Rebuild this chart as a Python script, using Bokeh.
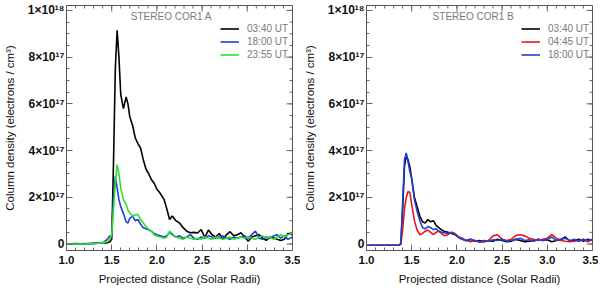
import math
from bokeh.plotting import figure
from bokeh.models import FixedTicker, Legend, LegendItem, Range1d, Label
from bokeh.layouts import row
from bokeh.embed import file_html
from bokeh.resources import INLINE

# ---------------- data (column density in units of 1e17 electrons/cm^2) ----------------
x_a = [1.0, 1.1, 1.2, 1.3, 1.4, 1.45, 1.48, 1.50, 1.52, 1.54, 1.56, 1.58, 1.60, 1.63, 1.66,
       1.68, 1.70, 1.73, 1.76, 1.79, 1.82, 1.85, 1.88, 1.91, 1.94, 1.97, 2.00, 2.04, 2.08,
       2.11, 2.14, 2.17, 2.21, 2.25, 2.29, 2.33, 2.37, 2.41, 2.45, 2.49, 2.53, 2.57, 2.61,
       2.65, 2.69, 2.73, 2.77, 2.81, 2.85, 2.89, 2.93, 2.97, 3.01, 3.05, 3.09, 3.13, 3.17,
       3.21, 3.25, 3.29, 3.33, 3.37, 3.41, 3.45, 3.50]
a_0340 = [0.0, 0.02, 0.0, 0.03, 0.05, 0.05, 0.1, 0.2, 3.5, 7.5, 9.15, 8.0, 6.4, 5.8, 6.3,
          6.0, 5.45, 5.1, 4.55, 4.3, 4.1, 3.6, 3.2, 3.0, 2.75, 2.6, 2.35, 2.15, 1.9,
          1.5, 1.05, 1.2, 1.0, 0.9, 0.7, 0.55, 0.48, 0.5, 0.47, 0.62, 0.28, 0.6, 0.4,
          0.3, 0.45, 0.2, 0.4, 0.53, 0.35, 0.4, 0.48, 0.3, 0.12, 0.3, 0.35, 0.4, 0.25,
          0.16, 0.3, 0.27, 0.2, 0.15, 0.2, 0.45, 0.4]
a_1800 = [0.0, 0.0, 0.02, 0.02, 0.05, 0.2, 0.35, 0.3, 2.0, 2.9, 2.4, 1.9, 1.6, 1.3, 0.95,
          0.9, 1.1, 1.2, 1.0, 1.05, 0.85, 0.7, 0.65, 0.6, 0.55, 0.45, 0.4, 0.35, 0.3,
          0.35, 0.5, 0.4, 0.3, 0.35, 0.25, 0.3, 0.4, 0.25, 0.2, 0.3, 0.25, 0.35, 0.3,
          0.25, 0.3, 0.35, 0.25, 0.2, 0.3, 0.25, 0.3, 0.35, 0.25, 0.4, 0.55, 0.25, 0.2,
          0.3, 0.25, 0.35, 0.4, 0.25, 0.35, 0.2, 0.3]
a_2355 = [0.0, 0.0, 0.0, 0.02, 0.05, 0.1, 0.2, 0.4, 1.5, 2.6, 3.4, 3.0, 2.4, 1.9, 1.7,
          1.45, 1.34, 1.2, 1.25, 1.26, 1.05, 0.9, 0.75, 0.62, 0.55, 0.4, 0.33, 0.3, 0.25,
          0.3, 0.55, 0.45, 0.3, 0.25, 0.2, 0.3, 0.25, 0.2, 0.25, 0.2, 0.3, 0.25, 0.2,
          0.3, 0.25, 0.2, 0.25, 0.3, 0.2, 0.25, 0.3, 0.25, 0.3, 0.25, 0.2, 0.3, 0.35,
          0.25, 0.3, 0.2, 0.3, 0.4, 0.3, 0.4, 0.45]

x_b = [1.0, 1.1, 1.2, 1.3, 1.36, 1.38, 1.40, 1.42, 1.44, 1.46, 1.48, 1.50, 1.53, 1.56, 1.59,
       1.62, 1.65, 1.68, 1.71, 1.74, 1.77, 1.80, 1.83, 1.86, 1.90, 1.94, 1.98, 2.02, 2.06,
       2.10, 2.15, 2.20, 2.25, 2.30, 2.35, 2.40, 2.45, 2.50, 2.55, 2.60, 2.65, 2.70, 2.75,
       2.80, 2.85, 2.90, 2.95, 3.00, 3.05, 3.10, 3.15, 3.20, 3.25, 3.30, 3.35, 3.40, 3.45,
       3.50]
b_0340 = [-0.05, -0.05, -0.05, -0.05, -0.04, 0.0, 1.5, 3.3, 3.8, 3.6, 3.3, 2.8, 2.0, 1.6, 1.2,
          0.95, 0.9, 1.05, 0.95, 1.0, 0.8, 0.7, 0.6, 0.55, 0.5, 0.45, 0.4, 0.28, 0.2,
          0.15, 0.2, 0.12, 0.15, 0.1, 0.15, 0.12, 0.2, 0.15, 0.1, 0.12, 0.2, 0.15, 0.1,
          0.12, 0.15, 0.2, 0.15, 0.18, 0.1, 0.15, 0.2, 0.3, 0.12, 0.15, 0.2, 0.12, 0.2,
          0.15]
b_0445 = [-0.05, -0.05, -0.05, -0.05, -0.04, 0.0, 0.6, 1.5, 2.0, 2.25, 2.2, 1.7, 1.0, 0.6, 0.4,
          0.45, 0.55, 0.6, 0.5, 0.4, 0.5, 0.55, 0.45, 0.36, 0.4, 0.5, 0.45, 0.3, 0.25,
          0.15, 0.1, 0.15, 0.08, 0.1, 0.15, 0.35, 0.4, 0.2, 0.15, 0.2, 0.36, 0.4, 0.35,
          0.25, 0.2, 0.15, 0.2, 0.25, 0.4, 0.25, 0.15, 0.12, 0.1, 0.12, 0.15, 0.2, 0.1,
          0.2]
b_1800 = [-0.05, -0.05, -0.05, -0.05, -0.04, 0.0, 1.8, 3.6, 3.9, 3.5, 3.1, 2.8, 1.9, 1.4, 1.0,
          0.7, 0.65, 0.75, 0.7, 0.62, 0.65, 0.55, 0.5, 0.48, 0.45, 0.5, 0.4, 0.3, 0.2,
          0.15, 0.2, 0.15, 0.1, 0.15, 0.12, 0.18, 0.15, 0.2, 0.12, 0.15, 0.2, 0.25, 0.15,
          0.18, 0.12, 0.2, 0.15, 0.2, 0.3, 0.15, 0.2, 0.25, 0.15, 0.2, 0.12, 0.2, 0.15,
          0.2]

x_ticks = [1.0, 1.5, 2.0, 2.5, 3.0, 3.5]
x_minor = [round(1.0 + 0.1 * i, 2) for i in range(26)]
x_tick_labels = ["1.0", "1.5", "2.0", "2.5", "3.0", "3.5"]
y_ticks = [0, 2, 4, 6, 8, 10]
y_minor = [0.5 * i for i in range(21)]
y_tick_labels = ["0", "2×10¹⁷", "4×10¹⁷", "6×10¹⁷", "8×10¹⁷", "1×10¹⁸"]

X0, X1 = 1.0, 3.5
Y0, Y1 = -0.277, 10.21

FONT = "Liberation Sans"
GREY_TXT = "#7a7a7a"
TICK_COL = "#666666"


def make_panel(width, b_left, b_right, title, title_x, xs, series, legend_x):
    p = figure(width=width, height=287, output_backend="svg", toolbar_location=None,
               x_range=Range1d(X0, X1), y_range=Range1d(Y0, Y1),
               min_border_left=b_left, min_border_right=b_right,
               min_border_top=5, min_border_bottom=36)
    p.grid.visible = False
    p.outline_line_color = "#555555"
    p.outline_line_width = 1

    bottom = p.below[0]
    left = p.left[0]
    bottom.ticker = FixedTicker(ticks=x_ticks, minor_ticks=x_minor)
    bottom.major_label_overrides = {t: l for t, l in zip(x_ticks, x_tick_labels)}
    bottom.axis_label = "Projected distance (Solar Radii)"
    left.ticker = FixedTicker(ticks=y_ticks, minor_ticks=y_minor)
    left.major_label_overrides = {t: l for t, l in zip(y_ticks, y_tick_labels)}
    left.axis_label = "Column density (electrons / cm³)"

    for ax in (bottom, left):
        ax.axis_line_color = None
        ax.major_tick_in = 6
        ax.major_tick_out = 0
        ax.minor_tick_in = 3
        ax.minor_tick_out = 0
        ax.major_tick_line_color = TICK_COL
        ax.minor_tick_line_color = TICK_COL
        ax.major_label_text_font = FONT
        ax.major_label_text_font_style = "bold"
        ax.major_label_text_color = "#111111"
        ax.axis_label_text_font = FONT
        ax.axis_label_text_font_style = "normal"
        ax.axis_label_text_font_size = "11.5px"
        ax.axis_label_text_color = "#111111"
    bottom.major_label_text_font_size = "11.5px"
    left.major_label_text_font_size = "12px"
    bottom.major_label_standoff = 5
    bottom.axis_label_standoff = 6
    left.major_label_standoff = 2
    left.axis_label_standoff = 9

    # mirrored inward ticks on the top and right edges (IDL style)
    p.scatter([X1] * len(y_ticks), y_ticks, marker="dash", size=12,
              line_color=TICK_COL, line_width=1)
    p.scatter([X1] * len(y_minor), y_minor, marker="dash", size=6,
              line_color=TICK_COL, line_width=1)
    p.scatter(x_ticks, [Y1] * len(x_ticks), marker="dash", size=12, angle=math.pi / 2,
              line_color=TICK_COL, line_width=1)
    p.scatter(x_minor, [Y1] * len(x_minor), marker="dash", size=6, angle=math.pi / 2,
              line_color=TICK_COL, line_width=1)

    items = []
    for label, ys, color in series:
        r = p.line(xs, ys, line_color=color, line_width=1.6)
        items.append(LegendItem(label=label, renderers=[r]))

    leg = Legend(items=items, location=(legend_x, 189), orientation="vertical",
                 padding=0, margin=0, spacing=0, glyph_width=19, glyph_height=13,
                 label_height=13, label_standoff=8, border_line_color=None,
                 background_fill_alpha=0, label_text_font=FONT,
                 label_text_font_size="10px", label_text_color=GREY_TXT)
    p.add_layout(leg)

    p.add_layout(Label(x=title_x, y=9.74, text=title, text_align="center",
                       text_baseline="middle", text_font=FONT, text_font_size="10px",
                       text_color=GREY_TXT))
    return p


p1 = make_panel(300, 64, 8, "STEREO COR1 A", 2.16, x_a,
                [("03:40 UT", a_0340, "#000000"),
                 ("18:00 UT", a_1800, "#1f3fd6"),
                 ("23:55 UT", a_2355, "#2ee02e")], 154)
p2 = make_panel(298, 65, 6, "STEREO COR1 B", 2.18, x_b,
                [("03:40 UT", b_0340, "#000000"),
                 ("04:45 UT", b_0445, "#e81818"),
                 ("18:00 UT", b_1800, "#1f3fd6")], 155)

layout = row(p1, p2)
open("out.html", "w").write(file_html(layout, INLINE))
